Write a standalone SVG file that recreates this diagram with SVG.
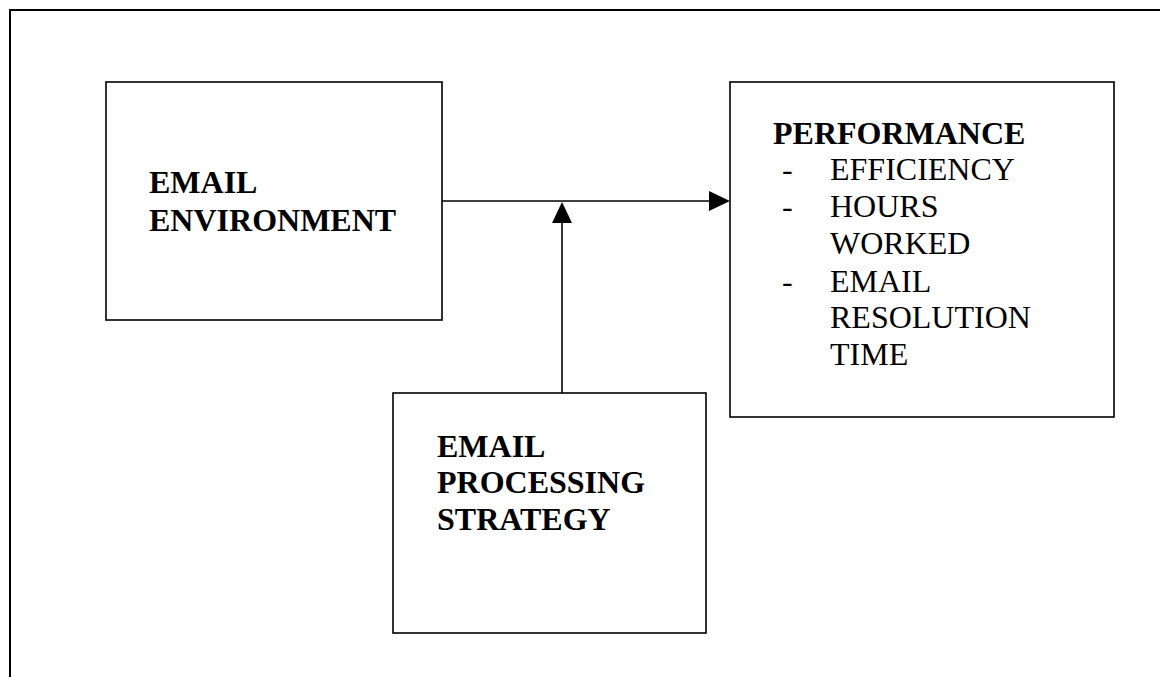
<svg xmlns="http://www.w3.org/2000/svg" width="1160" height="677" viewBox="0 0 1160 677">
  <style>
    .box { fill: #ffffff; stroke: #000000; stroke-width: 1.6; }
    .frame { fill: none; stroke: #000000; stroke-width: 2; }
    .edge { fill: none; stroke: #000000; stroke-width: 1.6; }
    .head { fill: #000000; stroke: none; }
    .title { font-family: "Liberation Serif", "Times New Roman", serif; font-size: 32px; font-weight: bold; fill: #000000; }
    .item { font-family: "Liberation Serif", "Times New Roman", serif; font-size: 32px; fill: #000000; }
  </style>

  <rect x="0" y="0" width="1160" height="677" fill="#ffffff"/>

  <!-- outer frame, only top and left edges fall inside the page -->
  <path class="frame" d="M10,677 V10 H1160"/>

  <g id="connectors">
    <!-- environment to performance -->
    <line class="edge" x1="442" y1="201" x2="712" y2="201"/>
    <polygon class="head" points="730,201 709,191 709,211"/>
    <!-- strategy moderating the link -->
    <line class="edge" x1="562" y1="393" x2="562" y2="220"/>
    <polygon class="head" points="562,202 552,223 572,223"/>
  </g>

  <g id="node-environment">
    <rect class="box" x="106" y="82" width="336" height="238"/>
    <text class="title" x="149" y="193">EMAIL</text>
    <text class="title" x="149" y="231">ENVIRONMENT</text>
  </g>

  <g id="node-performance">
    <rect class="box" x="730" y="82" width="384" height="335"/>
    <text class="title" x="773" y="144">PERFORMANCE</text>
    <text class="item" x="782" y="180">-</text>
    <text class="item" x="830" y="180">EFFICIENCY</text>
    <text class="item" x="782" y="217">-</text>
    <text class="item" x="830" y="217">HOURS</text>
    <text class="item" x="830" y="254">WORKED</text>
    <text class="item" x="782" y="292">-</text>
    <text class="item" x="830" y="292">EMAIL</text>
    <text class="item" x="830" y="328">RESOLUTION</text>
    <text class="item" x="830" y="365">TIME</text>
  </g>

  <g id="node-strategy">
    <rect class="box" x="393" y="393" width="313" height="240"/>
    <text class="title" x="437" y="457">EMAIL</text>
    <text class="title" x="437" y="493">PROCESSING</text>
    <text class="title" x="437" y="530">STRATEGY</text>
  </g>
</svg>
